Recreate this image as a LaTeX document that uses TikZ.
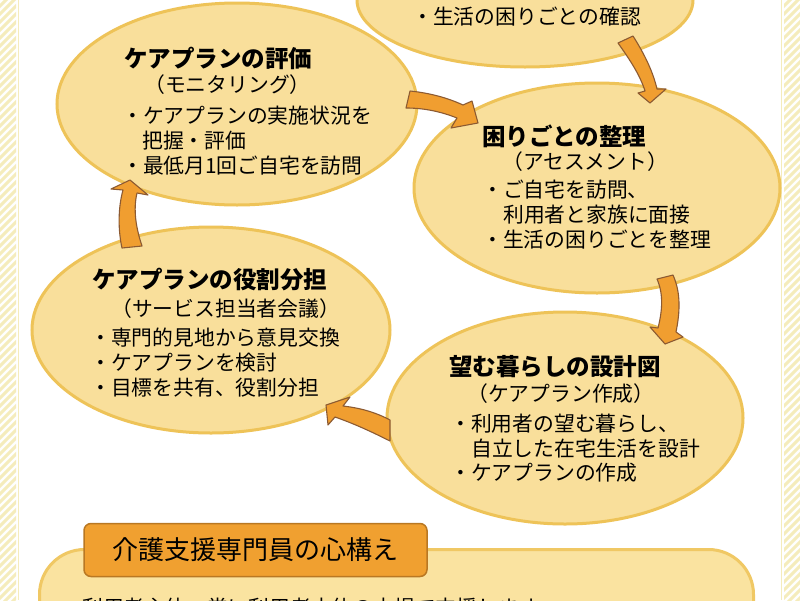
\documentclass[tikz,border=0pt]{standalone}
\usepackage{fontspec}
\setmainfont{Noto Sans CJK JP}
\usetikzlibrary{shapes.geometric}
\definecolor{ellfill}{RGB}{249,223,155}
\definecolor{elldraw}{RGB}{238,195,88}
\definecolor{arrfill}{RGB}{240,158,48}
\definecolor{arrdraw}{RGB}{140,90,50}
\definecolor{tabfill}{RGB}{240,160,48}
\definecolor{tabdraw}{RGB}{185,120,35}
\definecolor{stripec}{RGB}{245,236,188}
\definecolor{boxfill}{RGB}{250,227,160}
\definecolor{boxdraw}{RGB}{240,200,100}
\tikzset{
  cyc/.style={ellipse, draw=elldraw, fill=ellfill, line width=3pt, inner sep=0pt},
  txt/.style={anchor=base west, inner sep=0pt, font=\fontsize{20.8}{24}\selectfont},
  ttl/.style={anchor=base west, inner sep=0pt, font=\fontsize{23.5}{28}\selectfont\bfseries},
  blockarrow/.style={draw=arrdraw, fill=arrfill, line width=1.1pt, line join=round},
  stripe/.style={draw=stripec, line width=3pt},
  tabbox/.style={draw=tabdraw, fill=tabfill, line width=1.5pt, rounded corners=7pt, inner sep=0pt, font=\fontsize{26}{30}\selectfont},
  kbox/.style={draw=boxdraw, fill=boxfill, line width=3pt, rounded corners=45pt, inner sep=0pt}
}
\begin{document}
\begin{tikzpicture}[x=1pt,y=-1pt]
\useasboundingbox (0,0) rectangle (800,600);
\clip (0,0) rectangle (800,600);
\fill[white] (0,0) rectangle (800,600);
% hatched side strips
\begin{scope}
\clip (0,0) rectangle (16,600);
\foreach \k in {0,8,...,640} \draw[stripe] (-2,\k) -- (18,\k-20);
\end{scope}
\begin{scope}
\clip (784,0) rectangle (800,600);
\foreach \k in {0,8,...,640} \draw[stripe] (782,\k) -- (802,\k-20);
\end{scope}
\draw[stripec, line width=1pt] (18.5,0) -- (18.5,600);
\draw[stripec, line width=1pt] (781.5,0) -- (781.5,600);

% ellipses
\node[cyc, minimum width=336pt, minimum height=134pt] (kakunin) at (525,0) {};
\node[cyc, minimum width=360pt, minimum height=202pt] (hyouka) at (237,104) {};
\node[cyc, minimum width=366pt, minimum height=210pt] (seiri) at (597,188) {};
\node[cyc, minimum width=358pt, minimum height=206pt] (yakuwari) at (211,330) {};
\node[cyc, minimum width=356pt, minimum height=212pt] (sekkei) at (565,418) {};

% texts
\node[txt] (k3) at (412,24) {・生活の困りごとの確認};

\node[ttl] (h0) at (124,67) {ケアプランの評価};
\node[txt] (h1) at (144,92) {（モニタリング）};
\node[txt] (h2) at (122,123) {・ケアプランの実施状況を};
\node[txt] (h3) at (142,148) {把握・評価};
\node[txt] (h4) at (122,173) {・最低月1回ご自宅を訪問};

\node[ttl] (s0) at (482,145) {困りごとの整理};
\node[txt] (s1) at (502,169) {（アセスメント）};
\node[txt] (s2) at (482,197) {・ご自宅を訪問、};
\node[txt] (s3) at (503,222) {利用者と家族に面接};
\node[txt] (s4) at (482,247) {・生活の困りごとを整理};

\node[ttl] (y0) at (92,288) {ケアプランの役割分担};
\node[txt] (y1) at (111,316) {（サービス担当者会議）};
\node[txt] (y2) at (90,345) {・専門的見地から意見交換};
\node[txt] (y3) at (90,370) {・ケアプランを検討};
\node[txt] (y4) at (90,395) {・目標を共有、役割分担};

\node[ttl] (e0) at (449,375) {望む暮らしの設計図};
\node[txt] (e1) at (467,401) {（ケアプラン作成）};
\node[txt] (e2) at (450,431) {・利用者の望む暮らし、};
\node[txt] (e3) at (471,456) {自立した在宅生活を設計};
\node[txt] (e4) at (450,480) {・ケアプランの作成};

% block arrows
\path[blockarrow] (618,43) .. controls (630,60) and (640,75) .. (645,91) -- (638,93) -- (650,103) -- (666,89) -- (657,89) .. controls (653,72) and (645,55) .. (633,36) -- cycle;
\path[blockarrow] (410,91) .. controls (430,93) and (448,98) .. (463,105) -- (472,101) -- (478,123) -- (451,128) -- (457,118) .. controls (442,112) and (425,108) .. (406,108) -- cycle;
\path[blockarrow] (657,279) .. controls (664,295) and (662,312) .. (658,328) -- (650,327) -- (665,344) -- (683,337) -- (676,332) .. controls (680,312) and (681,293) .. (673,275) -- cycle;
\path[blockarrow] (390,420) .. controls (375,412) and (360,408) .. (343,406) -- (350,397) -- (326,405) -- (328,425) -- (335,417) .. controls (355,424) and (372,432) .. (390,441) -- cycle;
\path[blockarrow] (122,248) .. controls (118,230) and (118,208) .. (123,190) -- (111,189) -- (130,180) -- (148,195) -- (137,193) .. controls (133,210) and (136,228) .. (142,246) -- cycle;

% bottom section
\node[kbox, minimum width=714pt, minimum height=120pt, anchor=north west] (kokoro) at (38,548) {};
\node[tabbox, minimum width=343pt, minimum height=53pt] (tab) at (255.5,550) {介護支援専門員の心構え};
\node[txt] (kk1) at (82,615) {利用者主体、常に利用者本位の立場で支援します};
\end{tikzpicture}
\end{document}
